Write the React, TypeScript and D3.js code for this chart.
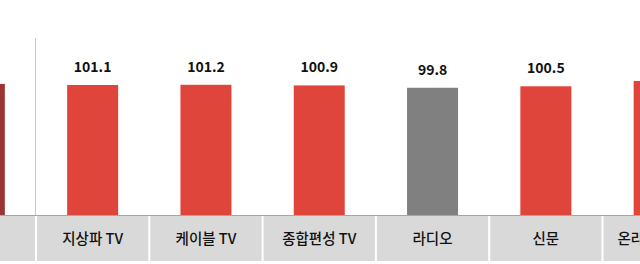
import React from "react";
import * as d3 from "d3";

const categories = ["전체", "지상파 TV", "케이블 TV", "종합편성 TV", "라디오", "신문", "온라인 동영상"];
const values = [101.6, 101.1, 101.2, 100.9, 99.8, 100.5, 103.0];
const colors = ["#9b3535", "#e0453b", "#e0453b", "#e0453b", "#808080", "#e0453b", "#e0453b"];
const valueLabels = ["101.6", "101.1", "101.2", "100.9", "99.8", "100.5", "103.0"];

const W = 640;
const H = 264;
const STEP = 113.3;
const X0 = 36 - STEP;
const BASE = 215;

export default function App() {
  const x = d3
    .scaleBand<string>()
    .domain(categories)
    .range([X0, X0 + STEP * categories.length])
    .padding(0);
  const y = d3.scaleLinear().domain([40, 101.1]).range([BASE, 85]);
  const bw = 51;
  const font = "'Noto Sans CJK KR', 'Noto Sans', sans-serif";

  return (
    <svg
      width={W}
      height={H}
      style={{ position: "absolute", left: 0, top: 0, background: "#fff" }}
    >
      <line x1={35.5} x2={35.5} y1={38} y2={BASE} stroke="#c8c8c8" strokeWidth={1} />
      {categories.map((c, i) => {
        const cx = (x(c) as number) + x.bandwidth() / 2;
        return (
          <g key={c}>
            <rect
              x={cx - bw / 2}
              y={y(values[i])}
              width={bw}
              height={BASE - y(values[i])}
              fill={colors[i]}
            />
            <text
              x={cx}
              y={y(values[i]) - 13}
              textAnchor="middle"
              fontFamily={font}
              fontWeight={700}
              fontSize={14}
              fill="#111"
            >
              {valueLabels[i]}
            </text>
            <rect
              x={(x(c) as number) + 1}
              y={216}
              width={x.bandwidth() - 2}
              height={45}
              fill="#d9d9d9"
            />
            <text
              x={cx}
              y={240}
              dominantBaseline="middle"
              textAnchor="middle"
              fontFamily={font}
              fontWeight={500}
              fontSize={14.5}
              fill="#111"
            >
              {c}
            </text>
          </g>
        );
      })}
      <line x1={0} x2={W} y1={BASE + 0.5} y2={BASE + 0.5} stroke="#a6a6a6" strokeWidth={1} />
    </svg>
  );
}
